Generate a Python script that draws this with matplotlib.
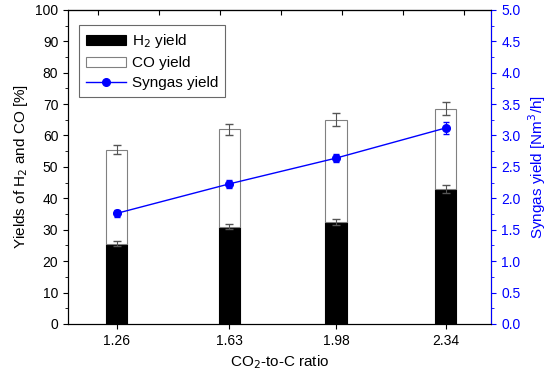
import matplotlib
matplotlib.use("Agg")
import matplotlib.pyplot as plt
from matplotlib.ticker import MultipleLocator, FormatStrFormatter
from matplotlib.lines import Line2D
import numpy as np

plt.rcParams['font.family'] = ['Liberation Sans', 'DejaVu Sans']
plt.rcParams['font.size'] = 10

# data
ratio = [1.26, 1.63, 1.98, 2.34]
h2_yield = [25.5, 31.0, 32.5, 43.0]
h2_err = [0.8, 0.8, 1.0, 1.2]
co_yield = [30.0, 31.0, 32.5, 25.5]
total_err = [1.5, 1.8, 2.0, 2.0]
syngas = [1.76, 2.23, 2.64, 3.12]
syngas_err = [0.05, 0.06, 0.06, 0.1]
top_ticks = [1.2, 1.4, 1.6, 1.8, 2.0, 2.2, 2.4]

fig = plt.figure(figsize=(5.5, 3.78), dpi=100)
ax = fig.add_axes([0.1236, 0.143, 0.77, 0.831])

w = 0.07
x = np.array(ratio)
h2 = np.array(h2_yield)
co = np.array(co_yield)
ax.bar(x, h2, w, color='black', edgecolor='black', linewidth=0.8, label='H$_2$ yield', zorder=2)
ax.bar(x, co, w, bottom=h2, color='white', edgecolor='#808080', linewidth=0.8, label='CO yield', zorder=2)
ax.errorbar(x, h2, yerr=h2_err, fmt='none', ecolor='#555555', capsize=3, elinewidth=0.8, zorder=3)
ax.errorbar(x, h2 + co, yerr=total_err, fmt='none', ecolor='#555555', capsize=3, elinewidth=0.8, zorder=3)

ax.set_xlim(1.10, 2.49)
ax.set_ylim(0, 100)
ax.set_xticks(ratio)
ax.set_xticklabels([f"{r:.2f}" for r in ratio])
ax.yaxis.set_major_locator(MultipleLocator(10))
ax.yaxis.set_minor_locator(MultipleLocator(5))
ax.tick_params(axis='y', which='both', direction='out', right=False)
ax.tick_params(axis='x', direction='out', top=False)
ax.set_xlabel('CO$_2$-to-C ratio', fontsize=11)
ax.set_ylabel('Yields of H$_2$ and CO [%]', fontsize=11)

top = ax.secondary_xaxis('top')
top.set_xticks(top_ticks)
top.tick_params(direction='in', labeltop=False, length=3.5)

ax2 = ax.twinx()
ax2.errorbar(x, syngas, yerr=syngas_err, color='blue', marker='o', markersize=5.5,
             linewidth=1, capsize=2, elinewidth=0.8, zorder=4)
ax2.set_ylim(0, 5)
ax2.yaxis.set_major_locator(MultipleLocator(0.5))
ax2.yaxis.set_minor_locator(MultipleLocator(0.25))
ax2.yaxis.set_major_formatter(FormatStrFormatter('%.1f'))
ax2.tick_params(axis='y', which='both', colors='blue', direction='out')
ax2.spines['right'].set_color('blue')
ax2.set_ylabel('Syngas yield [Nm$^3$/h]', color='blue', fontsize=11)

h1, l1 = ax.get_legend_handles_labels()
syn_handle = Line2D([], [], color='blue', marker='o', markersize=5.5, linewidth=1)
leg = ax.legend(h1 + [syn_handle], l1 + ['Syngas yield'], loc='upper left',
                bbox_to_anchor=(0.008, 0.975), fancybox=False, edgecolor='#444444',
                fontsize=11, handlelength=2.6, borderpad=0.45, labelspacing=0.4,
                handletextpad=0.4)
leg.get_frame().set_linewidth(0.8)

fig.savefig('out.png', dpi=100)
